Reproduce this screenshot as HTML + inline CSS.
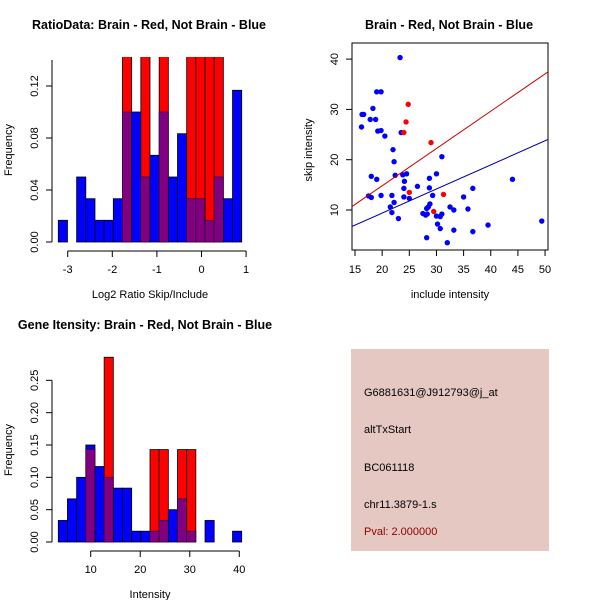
<!DOCTYPE html>
<html><head><meta charset="utf-8"><style>
body{margin:0;background:#fff;}
svg{display:block;font-family:"Liberation Sans",sans-serif;}
</style></head><body>
<svg id="c" width="600" height="600" viewBox="0 0 600 600"></svg>
<script>
// Top-left histogram data (20 bins)
const ratioBlue = [0.0167,0,0.05,0.0333,0.0167,0.0167,0.0333,0.1,0.1,0.05,0.0667,0.1,0.05,0.0833,0.0333,0.0333,0.0167,0.05,0.0333,0.1167];
const ratioRed  = [0,0,0,0,0,0,0,0.2,0,0.2,0,0.2,0,0,0.2,0.2,0.2,0.2,0,0];
const ratioTicksX = [-3,-2,-1,0,1];
const ratioTicksY = [0,0.04,0.08,0.12];
// Scatter data
const blueX = [23.3,19.0,19.8,16.3,16.6,18.3,17.8,18.8,16.2,19.2,19.8,20.5,23.5,22,22.2,31,18,19,22.4,23.8,24.5,24.1,30,28.7,26.5,24,28.7,36.7,44,17.5,18,19.8,21.8,24,25,29.3,35,22.2,21.5,21.8,23,28.8,28.5,28.2,32.5,33.2,35.8,27.5,28,28.3,30,30.7,31,30.2,30.7,33.2,36.7,39.5,28.2,32,49.4];
const blueY = [40.3,33.5,33.5,29,29,30.2,28,28,26.5,25.7,25.8,24.7,25.4,22,19.6,20.6,16.7,16.1,16.9,17,17.2,15.7,17.2,16.3,14.7,14.3,14.4,14.3,16.1,12.8,12.5,12.9,12.9,12.6,12.3,12.9,12.6,11.5,10.6,9.5,8.3,11.2,10.6,10.3,10.6,10.0,10.2,9.3,9.0,9.2,8.8,8.7,9.2,7.2,6.3,6.0,5.7,7.0,4.5,3.5,7.8];
const redX = [24.8,24.4,24,29,25,31.3,29.5];
const redY = [31,27.5,25.4,23.4,13.5,13.1,9.7];
const redLine = [14.4,10.66,50.6,37.5];
const blueLine = [14.4,6.7,50.6,24.05];
const scatTicksX = [15,20,25,30,35,40,45,50];
const scatTicksY = [10,20,30,40];
// Bottom-left histogram data
const intBlue = [0.0333,0.0667,0.1,0.15,0.1167,0.1,0.0833,0.0833,0.0167,0.0167,0.0167,0.0333,0.05,0.0667,0.0167,0,0.0333,0,0,0.0167];
const intRed  = [0,0,0,0.1429,0,0.2857,0,0,0,0,0.1429,0.1429,0,0.1429,0.1429,0,0,0,0,0];
const intTicksX = [10,20,30,40];
const intTicksY = [0,0.05,0.1,0.15,0.2,0.25];

const svg = document.getElementById('c');
const NS = 'http://www.w3.org/2000/svg';
function mk(tag, attrs, parent){const e=document.createElementNS(NS,tag);for(const k in attrs)e.setAttribute(k,attrs[k]);(parent||svg).appendChild(e);return e;}
function txt(s,x,y,opts){const t=mk('text',Object.assign({x:x,y:y,'font-size':11,'text-anchor':'middle',fill:'#000'},opts||{}));t.textContent=s;return t;}

const defs=mk('defs',{});
const cp1=mk('clipPath',{id:'clip1'},defs);mk('rect',{x:0,y:57,width:300,height:200},cp1);
const cp2=mk('clipPath',{id:'clip2'},defs);mk('rect',{x:0,y:355,width:300,height:200},cp2);
const cp3=mk('clipPath',{id:'clip3'},defs);mk('rect',{x:352,y:43,width:196,height:207},cp3);

function hist(blue, red, x0, x1, yBase, pxPerUnit, clip, prefix){
  const g=mk('g',{'clip-path':'url(#'+clip+')'});
  
  
  const w=(x1-x0)/blue.length;
  const yv=v=>yBase-v*pxPerUnit;
  for(let i=0;i<blue.length;i++){
    const bx=x0+i*w, b=blue[i], r=red[i];
    const lo=Math.min(b,r), hi=Math.max(b,r);
    if(hi<=0) continue;
    const top=mk('rect',{x:bx,y:yv(hi),width:w,height:(hi)*pxPerUnit,fill:(r>b?'#ff0000':'#0000ff'),stroke:'#000','stroke-width':0.8},g);
    
    
    if(lo>0){
      const p=mk('rect',{x:bx,y:yv(lo),width:w,height:lo*pxPerUnit,fill:'#800080',stroke:'#400040','stroke-width':0.8},g);
      
      
    }
  }
}

// ---- Top-left
const r1y=v=>242-v*1300, r1x=v=>67.7+(v+3)*44.6;
hist(ratioBlue, ratioRed, 58.3, 241.7, 242, 1300, 'clip1', 'ratio');
mk('line',{x1:52,y1:242,x2:52,y2:r1y(0.14),stroke:'#000'});
ratioTicksY.forEach(v=>{mk('line',{x1:46,y1:r1y(v),x2:52,y2:r1y(v),stroke:'#000'});
  txt(v===0?'0.00':v.toFixed(2),38,r1y(v),{transform:'rotate(-90 38 '+r1y(v)+')'});});
mk('line',{x1:r1x(-3),y1:251,x2:r1x(1),y2:251,stroke:'#000'});
ratioTicksX.forEach(v=>{mk('line',{x1:r1x(v),y1:251,x2:r1x(v),y2:257,stroke:'#000'});txt(String(v),r1x(v),273);});
txt('RatioData: Brain - Red, Not Brain - Blue',149,29,{'font-size':12.5,'font-weight':'bold'});
txt('Log2 Ratio Skip/Include',150,298);
txt('Frequency',12,150,{transform:'rotate(-90 12 150)'});

// ---- Top-right scatter
const sx=v=>355+(v-15)*5.43, sy=v=>210-(v-10)*5.03;
mk('rect',{x:352,y:43,width:196,height:207,fill:'none',stroke:'#000'});
const sg=mk('g',{'clip-path':'url(#clip3)'});
for(let i=0;i<blueX.length;i++){const c=mk('circle',{cx:sx(blueX[i]),cy:sy(blueY[i]),r:2.7,fill:'#0000ff'},sg);
  
  }
for(let i=0;i<redX.length;i++){const c=mk('circle',{cx:sx(redX[i]),cy:sy(redY[i]),r:2.7,fill:'#ff0000'},sg);
  
  }
const rl=mk('line',{x1:sx(redLine[0]),y1:sy(redLine[1]),x2:sx(redLine[2]),y2:sy(redLine[3]),stroke:'#cc0000'},sg);

const bl=mk('line',{x1:sx(blueLine[0]),y1:sy(blueLine[1]),x2:sx(blueLine[2]),y2:sy(blueLine[3]),stroke:'#0000aa'},sg);

scatTicksX.forEach(v=>{mk('line',{x1:sx(v),y1:250,x2:sx(v),y2:256,stroke:'#000'});txt(String(v),sx(v),273);});
scatTicksY.forEach(v=>{mk('line',{x1:346,y1:sy(v),x2:352,y2:sy(v),stroke:'#000'});txt(String(v),338,sy(v),{transform:'rotate(-90 338 '+sy(v)+')'});});
txt('Brain - Red, Not Brain - Blue',449,29,{'font-size':12.5,'font-weight':'bold'});
txt('include intensity',450,298);
txt('skip intensity',312,150,{transform:'rotate(-90 312 150)'});

// ---- Bottom-left
const i1y=v=>542-v*646.7, i1x=v=>90.7+(v-10)*4.953;
hist(intBlue, intRed, 58.3, 241.7, 542, 646.7, 'clip2', 'intensity');
mk('line',{x1:52,y1:542,x2:52,y2:i1y(0.25),stroke:'#000'});
intTicksY.forEach(v=>{mk('line',{x1:46,y1:i1y(v),x2:52,y2:i1y(v),stroke:'#000'});
  txt(v.toFixed(2),38,i1y(v),{transform:'rotate(-90 38 '+i1y(v)+')'});});
mk('line',{x1:i1x(10),y1:551,x2:i1x(40),y2:551,stroke:'#000'});
intTicksX.forEach(v=>{mk('line',{x1:i1x(v),y1:551,x2:i1x(v),y2:557,stroke:'#000'});txt(String(v),i1x(v),573);});
txt('Gene Itensity: Brain - Red, Not Brain - Blue',145,329,{'font-size':12.5,'font-weight':'bold'});
txt('Intensity',150,598);
txt('Frequency',12,450,{transform:'rotate(-90 12 450)'});

// ---- Info box
mk('rect',{x:351,y:349,width:198,height:202,fill:'#e5c8c2'});
[['G6881631@J912793@j_at',396,'#000'],['altTxStart',433,'#000'],['BC061118',471,'#000'],['chr11.3879-1.s',508,'#000'],['Pval: 2.000000',535,'#8b0000']].forEach((a,i)=>{
  const t=txt(a[0],364,a[1],{'text-anchor':'start',fill:a[2],'font-size':11});
  
  
});
</script>
</body></html>
